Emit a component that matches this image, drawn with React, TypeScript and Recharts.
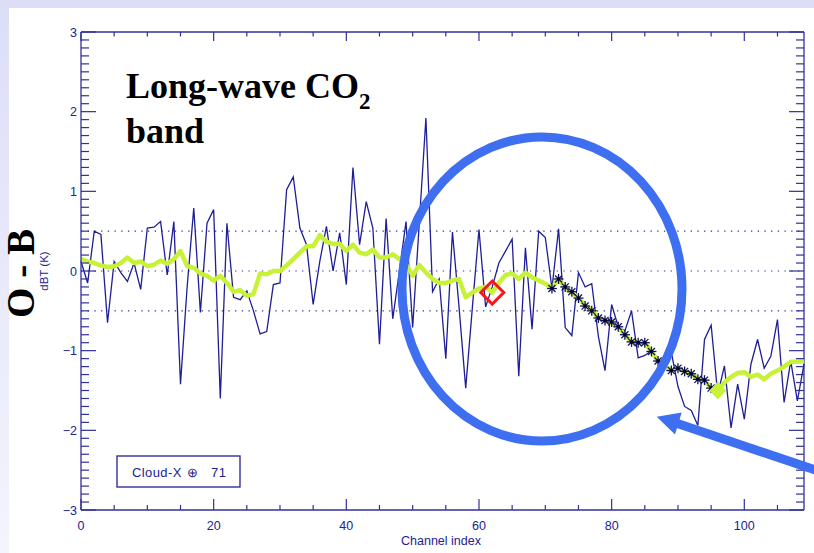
import React from 'react';
import { ComposedChart, Line, XAxis, YAxis, ReferenceLine, ReferenceDot } from 'recharts';

// channel index 0..109
const channels = Array.from({ length: 110 }, (_, i) => i);

// observed minus background (thin navy line)
const obsMinusBg = [
  0.12, -0.15, 0.5, 0.46, -0.65, 0.12, -0.02, -0.13, 0.1, -0.23,
  0.54, 0.55, 0.62, -0.05, 0.62, -1.42, -0.2, 0.79, -0.52, 0.6,
  0.77, -1.6, 0.6, -0.33, -0.36, -0.25, -0.5, -0.79, -0.76, -0.17,
  -0.15, 1.02, 1.18, 0.54, 0.33, -0.42, 0.12, 0.56, 0.0, 0.48,
  -0.17, 1.3, 0.33, 0.87, 0.54, -0.92, 0.66, -0.6, 0.0, 0.62,
  -0.71, 0.6, 1.92, -0.26, -0.1, -1.1, 0.49, -0.46, -1.47, -0.46,
  0.52, -0.45, -0.2, 0.1, 0.25, 0.4, -1.32, 0.29, -0.73, 0.5,
  0.42, -0.22, 0.53, -0.71, -0.81, -0.02, -0.2, -0.16, -0.82, -1.25,
  -0.42, -0.7, -0.75, -0.5, -1.09, -1.06, -1.0, -1.15, -1.12, -1.02,
  -1.45, -1.7, -1.75, -1.94, -0.86, -0.68, -1.55, -1.19, -1.97, -1.42,
  -1.86, -1.17, -0.86, -1.22, -1.07, -0.61, -1.65, -1.13, -1.63, -1.17,
];

// smoothed curve (thick yellow-green)
const smoothed = [
  0.15, 0.12, 0.1, 0.07, 0.05, 0.06, 0.1, 0.17, 0.1, 0.12,
  0.06, 0.08, 0.13, 0.09, 0.15, 0.25, 0.06, 0.04, -0.03, -0.06,
  -0.12, -0.06, -0.15, -0.26, -0.24, -0.31, -0.29, -0.03, -0.04, 0.0,
  0.0, 0.07, 0.15, 0.23, 0.31, 0.31, 0.45, 0.37, 0.34, 0.34,
  0.25, 0.33, 0.23, 0.21, 0.27, 0.17, 0.17, 0.21, 0.15, 0.09,
  -0.06, 0.075, -0.02, -0.1, -0.15, -0.15, -0.12, -0.1, -0.33, -0.27,
  -0.22, -0.2, -0.27, -0.15, -0.05, -0.03, -0.1, -0.02, -0.08, -0.12,
  -0.16, -0.21, -0.1, -0.21, -0.27, -0.34, -0.43, -0.49, -0.59, -0.63,
  -0.65, -0.71, -0.8, -0.89, -0.9, -0.9, -1.01, -1.13, -1.19, -1.25,
  -1.22, -1.26, -1.29, -1.36, -1.37, -1.47, -1.5, -1.4, -1.33, -1.28,
  -1.27, -1.33, -1.3, -1.36, -1.29, -1.25, -1.2, -1.14, -1.14, -1.13,
];

// cloud-affected channels (asterisks)
const starChannels = [71, 72, 73, 74, 75, 76, 77, 78, 79, 80, 81, 82, 83, 84, 85, 86, 87, 89, 90, 91, 92, 93, 94, 95];
const starValues = [-0.22, -0.1, -0.2, -0.26, -0.34, -0.44, -0.5, -0.59, -0.62, -0.64, -0.7, -0.8, -0.89, -0.9, -0.9, -1.01, -1.13, -1.25, -1.22, -1.26, -1.29, -1.36, -1.37, -1.47];

const redChannels = [62];
const redValues = [-0.27];
const endChannels = [96];
const endValues = [-1.5];

const X_MIN = 0;
const X_MAX = 109;
const Y_MIN = -3;
const Y_MAX = 3;
const xMajor = [0, 20, 40, 60, 80, 100];
const xTicks = [0, 5, 10, 15, 20, 25, 30, 35, 40, 45, 50, 55, 60, 65, 70, 75, 80, 85, 90, 95, 100, 105];
const yMajor = [-3, -2, -1, 0, 1, 2, 3];
// minor ticks every 0.1
const yTicks = Array.from({ length: 61 }, (_, i) => (i - 30) / 10);
const dottedLevels = [0.5, 0, -0.5];

const AXIS = '#30309a';
const LABEL = '#22228e';
const NAVY = '#1e1e96';
const LIME = '#c8f238';
const RING = '#3d6ff0';
const SANS = '"Liberation Sans", Arial, sans-serif';
const SERIF = '"Liberation Serif", "Times New Roman", serif';

const data = channels.map((c, i) => {
  const s = starChannels.indexOf(c);
  const r = redChannels.indexOf(c);
  const e = endChannels.indexOf(c);
  return {
    channel: c,
    omb: obsMinusBg[i],
    smooth: smoothed[i],
    star: s >= 0 ? starValues[s] : null,
    red: r >= 0 ? redValues[r] : null,
    end: e >= 0 ? endValues[e] : null,
  };
});

const isMajorY = (v: number) => yMajor.some((m) => Math.abs(m - v) < 1e-6);
const fmt = (v: number) => (v < 0 ? `\u2212${Math.abs(v)}` : `${v}`);

const BottomTick = (p: any) => {
  const { x, y, payload } = p;
  const major = xMajor.includes(payload.value);
  return (
    <g>
      <line x1={x} x2={x} y1={y} y2={y - (major ? 11 : 5)} stroke={AXIS} strokeWidth={1.2} />
      {major && (
        <text x={x} y={y + 20} textAnchor="middle" fontFamily={SANS} fontSize={12.5} fill={LABEL}>
          {payload.value}
        </text>
      )}
    </g>
  );
};

const LeftTick = (p: any) => {
  const { x, y, payload } = p;
  return (
    <g>
      <line x1={x} x2={x + 15} y1={y} y2={y} stroke={AXIS} strokeWidth={1.2} />
      <text x={x - 4} y={y + 4.5} textAnchor="end" fontFamily={SANS} fontSize={12.5} fill={LABEL}>
        {fmt(payload.value)}
      </text>
    </g>
  );
};

// tick marks drawn at a data point, pointing into the plot
const hTick = (len: number) => (p: any) =>
  p.cx == null ? <g /> : <line x1={p.cx} x2={p.cx + len} y1={p.cy} y2={p.cy} stroke={AXIS} strokeWidth={1.2} />;
const vTick = (len: number) => (p: any) =>
  p.cx == null ? <g /> : <line x1={p.cx} x2={p.cx} y1={p.cy} y2={p.cy + len} stroke={AXIS} strokeWidth={1.2} />;

const StarDot = (p: any) => {
  const { cx, cy, value, index } = p;
  if (value == null || cy == null) return <g key={`s${index}`} />;
  const r = 5;
  const spokes = [0, 45, 90, 135];
  return (
    <g key={`s${index}`}>
      {spokes.map((a) => {
        const dx = r * Math.cos((a * Math.PI) / 180);
        const dy = r * Math.sin((a * Math.PI) / 180);
        return <line key={a} x1={cx - dx} y1={cy - dy} x2={cx + dx} y2={cy + dy} stroke="#14145a" strokeWidth={1.3} />;
      })}
      <circle cx={cx} cy={cy} r={1.8} fill="#000030" />
    </g>
  );
};

const RedDiamond = (p: any) => {
  const { cx, cy, value, index } = p;
  if (value == null || cy == null) return <g key={`r${index}`} />;
  const h = 11.5;
  return (
    <polygon
      key={`r${index}`}
      points={`${cx},${cy - h} ${cx + h},${cy} ${cx},${cy + h} ${cx - h},${cy}`}
      fill="none"
      stroke="#ff1414"
      strokeWidth={3}
    />
  );
};

const EndDiamond = (p: any) => {
  const { cx, cy, value, index } = p;
  if (value == null || cy == null) return <g key={`e${index}`} />;
  return (
    <polygon
      key={`e${index}`}
      points={`${cx},${cy - 9} ${cx + 8.5},${cy} ${cx},${cy + 9} ${cx - 8.5},${cy}`}
      fill={LIME}
    />
  );
};

export default function App() {
  return (
    <div
      style={{
        position: 'absolute',
        left: 0,
        top: 0,
        width: 814,
        height: 553,
        background: 'linear-gradient(to bottom, #dcdef8, #f4f4fd)',
        overflow: 'hidden',
      }}
    >
      <div style={{ position: 'absolute', left: 9, top: 8, right: 0, bottom: 0, background: '#ffffff' }} />
      <div style={{ position: 'absolute', left: 0, top: 0 }}>
        <ComposedChart width={814} height={553} data={data} margin={{ top: 32, right: 10, bottom: 13, left: 0 }}>
          <XAxis
            dataKey="channel"
            type="number"
            domain={[X_MIN, X_MAX]}
            ticks={xTicks}
            interval={0}
            tickSize={0}
            tickMargin={0}
            tickLine={false}
            height={30}
            axisLine={{ stroke: AXIS, strokeWidth: 1.3 }}
            tick={(p: any) => <BottomTick {...p} />}
          />
          <YAxis
            type="number"
            domain={[Y_MIN, Y_MAX]}
            ticks={yMajor}
            interval={0}
            tickSize={0}
            tickMargin={0}
            tickLine={false}
            width={81}
            axisLine={{ stroke: AXIS, strokeWidth: 1.3 }}
            tick={(p: any) => <LeftTick {...p} />}
          />
          {/* frame: top and right edges */}
          <ReferenceLine y={Y_MAX} stroke={AXIS} strokeWidth={1.3} />
          <ReferenceLine x={X_MAX} stroke={AXIS} strokeWidth={1.3} />
          {yTicks.filter((v) => !isMajorY(v)).map((v) => (
            <ReferenceDot key={`lm${v}`} x={X_MIN} y={v} r={0} shape={hTick(8)} />
          ))}
          {yTicks.map((v) => (
            <ReferenceDot key={`rt${v}`} x={X_MAX} y={v} r={0} shape={hTick(isMajorY(v) ? -15 : -8)} />
          ))}
          {xTicks.map((v) => (
            <ReferenceDot key={`tt${v}`} x={v} y={Y_MAX} r={0} shape={vTick(xMajor.includes(v) ? 9 : 4.5)} />
          ))}
          {dottedLevels.map((lv) => (
            <ReferenceLine key={lv} y={lv} stroke={AXIS} strokeWidth={1.2} strokeDasharray="1.3 5.4" />
          ))}
          <Line dataKey="omb" type="linear" stroke={NAVY} strokeWidth={1.3} dot={false} activeDot={false} isAnimationActive={false} />
          <Line dataKey="smooth" type="linear" stroke={LIME} strokeWidth={4.5} strokeLinejoin="round" dot={false} activeDot={false} isAnimationActive={false} />
          <Line dataKey="star" stroke="none" dot={StarDot} activeDot={false} isAnimationActive={false} />
          <Line dataKey="end" stroke="none" dot={EndDiamond} activeDot={false} isAnimationActive={false} />
          <Line dataKey="red" stroke="none" dot={RedDiamond} activeDot={false} isAnimationActive={false} />
        </ComposedChart>
      </div>
      <svg width={814} height={553} style={{ position: 'absolute', left: 0, top: 0, pointerEvents: 'none' }}>
        <text x={126} y={98} fontFamily={SERIF} fontWeight="bold" fontSize={36} fill="#000">
          Long-wave CO
          <tspan fontSize={23} dy={11}>2</tspan>
        </text>
        <text x={126} y={143} fontFamily={SERIF} fontWeight="bold" fontSize={36} fill="#000">
          band
        </text>
        <text
          transform="translate(34 273.5) rotate(-90)"
          textAnchor="middle"
          fontFamily={SERIF}
          fontWeight="bold"
          fontSize={39}
          fill="#000"
        >
          O - B
        </text>
        <text
          transform="translate(48 271) rotate(-90)"
          textAnchor="middle"
          fontFamily={SANS}
          fontSize={11.5}
          fill={LABEL}
        >
          dBT (K)
        </text>
        <text x={441} y={545} textAnchor="middle" fontFamily={SANS} fontSize={12.5} fill={LABEL}>
          Channel index
        </text>
        <rect x={117} y={456} width={123} height={31} fill="none" stroke={AXIS} strokeWidth={1.4} />
        <text x={132} y={477} fontFamily={SANS} fontSize={13} letterSpacing={0.4} fill={LABEL}>
          Cloud-X
        </text>
        <text x={192.5} y={477} textAnchor="middle" fontFamily={SANS} fontSize={13} fill={LABEL}>
          {'\u2295'}
        </text>
        <text x={211} y={477} fontFamily={SANS} fontSize={13} letterSpacing={0.4} fill={LABEL}>
          71
        </text>
        <ellipse cx={542} cy={289} rx={140} ry={152} fill="none" stroke={RING} strokeWidth={9} />
        <line x1={676} y1={423} x2={830} y2={475} stroke={RING} strokeWidth={9} />
        <polygon points="656.7,416.7 681.7,412.5 675,434.5" fill={RING} />
      </svg>
    </div>
  );
}
